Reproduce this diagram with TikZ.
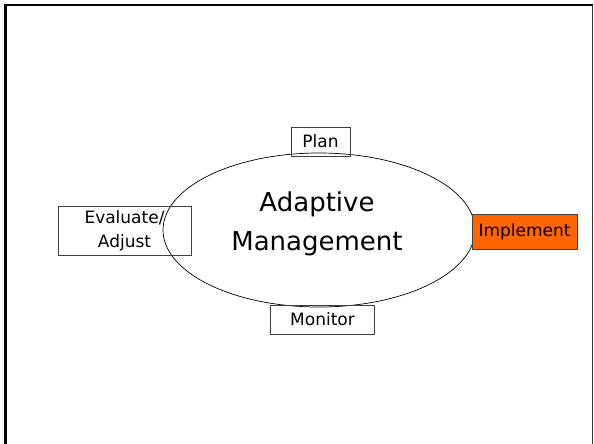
\documentclass[tikz,border=0pt]{standalone}
\usepackage{fontspec}
\setmainfont{DejaVu Sans}
\usetikzlibrary{shapes,positioning}
\definecolor{implorange}{HTML}{FF6600}
\begin{document}
\begin{tikzpicture}[x=1pt,y=-1pt,
	stage/.style={draw=black!75, line width=0.8pt, inner sep=0pt, align=center, font=\fontsize{17}{24}\selectfont},
	]
	\useasboundingbox (0,0) rectangle (594,444);
	\draw[line width=2.2pt] (5.5,444) -- (5.5,5) -- (592.5,5);
	\draw[line width=0.8pt, black!80] (592.5,5) -- (592.5,444);
	\node[ellipse, draw, line width=0.7pt, minimum width=312pt, minimum height=154pt] (cycle) at (319,230) {};
	\node[align=center, font=\fontsize{26}{39}\selectfont] (title) at (317,224) {Adaptive\\Management};
	\node[stage, minimum width=59pt, minimum height=29pt] (plan) at (320.5,141.5) {Plan};
	\node[stage, minimum width=133pt, minimum height=49pt] (evaluate) at (124.5,230.5) {Evaluate/\\Adjust};
	\node[stage, fill=implorange, minimum width=105pt, minimum height=34.5pt] (implement) at (524.5,232) {Implement};
	\node[stage, minimum width=104pt, minimum height=29pt] (monitor) at (322.5,319.5) {Monitor};
\end{tikzpicture}
\end{document}
